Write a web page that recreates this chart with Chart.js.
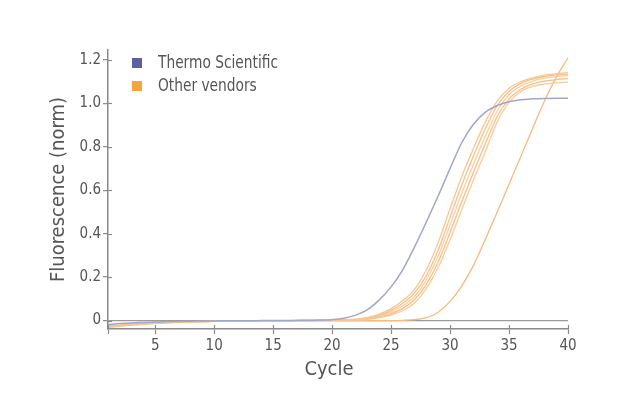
<!DOCTYPE html>
<html><head><meta charset="utf-8">
<script src="https://cdn.jsdelivr.net/npm/chart.js@4/dist/chart.umd.min.js"></script>
<style>html,body{margin:0;padding:0;background:#fff}#wrap{width:640px;height:415px;position:relative}</style>
</head><body><div id="wrap"><canvas id="c" width="640" height="415"></canvas></div>
<script>
const FONT = "'Liberation Sans Narrow','DejaVu Sans Condensed','Arial Narrow',sans-serif";
const TEXT = '#555555';
const AXIS = '#8a8a8a';

const cycles = [1,2,3,4,5,6,7,8,9,10,11,12,13,14,15,16,17,18,19,20,21,22,23,24,25,26,27,28,29,30,31,32,33,34,35,36,37,38,39,40];
const xTickValues = [1,5,10,15,20,25,30,35,40];
const yTickValues = [0,0.2,0.4,0.6,0.8,1.0,1.2];
const yTickLabels = ['0','0.2','0.4','0.6','0.8','1.0','1.2'];
const seriesNames = ['Thermo Scientific','Other vendors'];

const thermo = [-0.018,-0.014,-0.011,-0.009,-0.007,-0.005,-0.004,-0.003,-0.002,-0.002,-0.001,-0.001,-0.001,0.000,0.000,0.000,0.001,0.001,0.002,0.004,0.010,0.025,0.050,0.095,0.155,0.235,0.340,0.455,0.575,0.700,0.820,0.905,0.960,0.990,1.008,1.017,1.021,1.023,1.024,1.024];

const vendorA = [-0.030,-0.025,-0.020,-0.016,-0.013,-0.010,-0.008,-0.006,-0.005,-0.004,-0.003,-0.003,-0.002,-0.002,-0.001,-0.001,0.000,0.001,0.001,0.002,0.003,0.006,0.014,0.030,0.055,0.092,0.145,0.235,0.360,0.515,0.665,0.795,0.915,1.010,1.070,1.100,1.118,1.130,1.137,1.142];
const vendorB = [-0.028,-0.023,-0.019,-0.015,-0.012,-0.010,-0.008,-0.006,-0.005,-0.004,-0.003,-0.002,-0.002,-0.002,-0.001,-0.001,0.000,0.001,0.001,0.001,0.002,0.005,0.012,0.025,0.047,0.080,0.128,0.208,0.325,0.475,0.625,0.760,0.885,0.990,1.055,1.092,1.112,1.124,1.131,1.135];
const vendorC = [-0.032,-0.026,-0.021,-0.017,-0.013,-0.010,-0.008,-0.007,-0.005,-0.004,-0.003,-0.003,-0.002,-0.002,-0.001,-0.001,0.000,0.000,0.001,0.001,0.002,0.004,0.010,0.021,0.040,0.068,0.112,0.188,0.298,0.440,0.588,0.722,0.850,0.965,1.040,1.080,1.103,1.116,1.124,1.128];
const vendorD = [-0.025,-0.021,-0.017,-0.014,-0.011,-0.009,-0.007,-0.006,-0.005,-0.004,-0.003,-0.002,-0.002,-0.001,-0.001,-0.001,0.000,0.000,0.000,0.001,0.001,0.003,0.008,0.017,0.032,0.056,0.097,0.168,0.270,0.405,0.548,0.685,0.815,0.940,1.020,1.065,1.090,1.103,1.110,1.114];
const vendorE = [-0.030,-0.025,-0.020,-0.016,-0.013,-0.010,-0.008,-0.006,-0.005,-0.004,-0.003,-0.002,-0.002,-0.001,-0.001,-0.001,0.000,0.000,0.000,0.001,0.001,0.002,0.006,0.013,0.025,0.046,0.082,0.148,0.245,0.372,0.512,0.650,0.780,0.915,1.005,1.055,1.078,1.089,1.095,1.098];
const vendorLate = [-0.027,-0.022,-0.018,-0.015,-0.012,-0.010,-0.008,-0.006,-0.005,-0.004,-0.003,-0.003,-0.002,-0.002,-0.002,-0.001,-0.001,-0.001,0.000,0.000,0.000,0.000,0.000,0.000,0.000,0.001,0.004,0.013,0.038,0.088,0.160,0.255,0.375,0.500,0.628,0.756,0.885,1.010,1.120,1.210];

const thermoColor = '#a2a5cc';
const vendorColors = ['#f8c692','#f6c28a','#f9cfa0','#f5bf85','#f8cb98','#f5bb7e'];
const legendColors = ['#5c5fa3','#f6a43c'];

function pts(arr){ return cycles.map((c,i)=>({x:c,y:arr[i]})); }

const vendorSeries = [vendorA,vendorB,vendorC,vendorD,vendorE,vendorLate];
const datasets = [{label:seriesNames[0], data:pts(thermo), borderColor:thermoColor, borderWidth:1.5}];
vendorSeries.forEach((s,i)=>datasets.push({label:seriesNames[1], data:pts(s), borderColor:vendorColors[i], borderWidth:1.3}));

const decor = {
  id:'decor',
  afterDraw(chart){
    const ctx = chart.ctx, xs = chart.scales.x, ys = chart.scales.y, a = chart.chartArea;
    ctx.save();
    ctx.strokeStyle = AXIS; ctx.lineWidth = 1.2;
    xs.ticks.forEach(t=>{ const px = Math.round(xs.getPixelForValue(t.value))+0.5; ctx.beginPath(); ctx.moveTo(px,a.bottom); ctx.lineTo(px,a.bottom-4); ctx.stroke(); });
    ys.ticks.forEach(t=>{ const py = Math.round(ys.getPixelForValue(t.value))+0.5; ctx.beginPath(); ctx.moveTo(a.left,py); ctx.lineTo(a.left+4,py); ctx.stroke(); });
    // x title
    ctx.fillStyle = TEXT; ctx.font = '20px ' + FONT; ctx.textAlign='center'; ctx.textBaseline='middle';
    ctx.fillText('Cycle', 329, 370);
    // legend
    ctx.font = '17px ' + FONT; ctx.textAlign='left';
    seriesNames.forEach((n,i)=>{
      const y = 63 + i*23;
      ctx.fillStyle = legendColors[i]; ctx.fillRect(132, y-5, 10, 10);
      ctx.save();
      ctx.translate(158, y); ctx.scale(0.9, 1.05);
      ctx.fillStyle = TEXT; ctx.fillText(n, 0, 0);
      ctx.restore();
    });
    ctx.restore();
  }
};

new Chart(document.getElementById('c'), {
  type:'line',
  data:{datasets},
  options:{
    responsive:false, animation:false,
    layout:{padding:{top:50,right:72,left:0,bottom:0}},
    plugins:{legend:{display:false}, tooltip:{enabled:false}},
    elements:{point:{radius:0}, line:{cubicInterpolationMode:'monotone', fill:false}},
    scales:{
      x:{
        type:'linear', min:1, max:40,
        afterBuildTicks:s=>{ s.ticks = xTickValues.map(v=>({value:v})); },
        afterFit:s=>{ s.height = 86; },
        ticks:{callback:v=> v===1 ? '' : String(v), font:{family:FONT,size:15}, color:TEXT, padding:3, maxRotation:0, autoSkip:false},
        grid:{drawOnChartArea:false, tickLength:5, tickColor:AXIS, tickWidth:1.2},
        border:{color:AXIS, width:1.5}
      },
      y:{
        type:'linear', min:-0.039, max:1.246,
        afterBuildTicks:s=>{ s.ticks = yTickValues.map(v=>({value:v})); },
        afterFit:s=>{ s.width = 108; },
        ticks:{callback:(v,i)=> yTickLabels[i], font:{family:FONT,size:15}, color:TEXT, padding:2},
        grid:{color:c=> (c.tick && c.tick.value===0) ? '#9a9a9a' : 'rgba(0,0,0,0)', lineWidth:1.3, tickLength:5, tickColor:AXIS, tickWidth:1.2},
        border:{color:AXIS, width:1.5},
        title:{display:true, text:'Fluorescence (norm)', font:{family:FONT,size:20}, color:TEXT, padding:{top:47,bottom:0}}
      }
    }
  },
  plugins:[decor]
});
</script></body></html>
